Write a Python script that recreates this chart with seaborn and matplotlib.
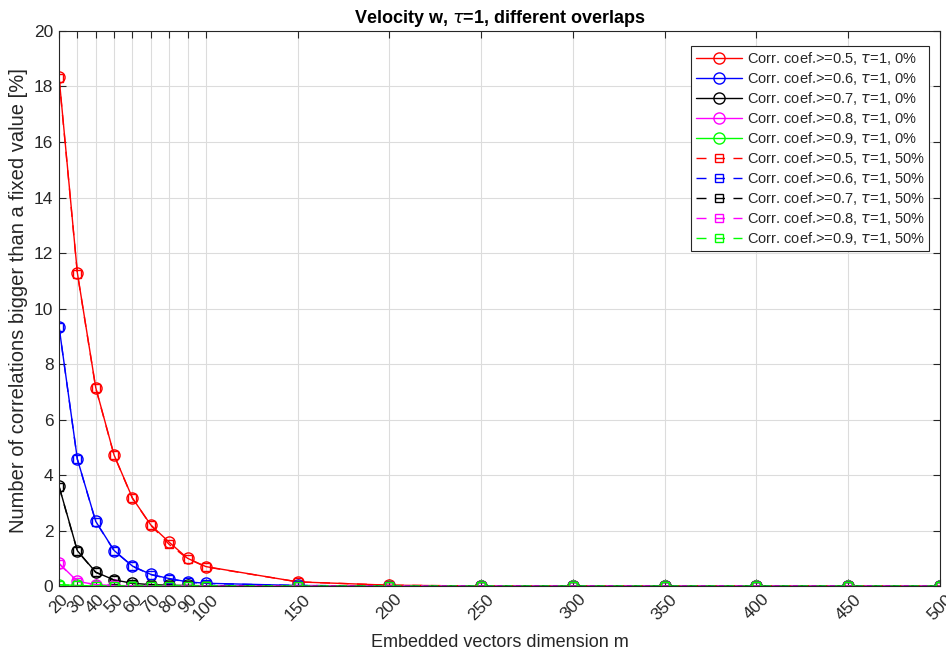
import matplotlib
matplotlib.use("Agg")
import matplotlib.pyplot as plt
import seaborn as sns
import pandas as pd

# Embedded vector dimensions
m_values = [20, 30, 40, 50, 60, 70, 80, 90, 100, 150, 200, 250, 300, 350, 400, 450, 500]

# Percentage of correlations above each threshold, no overlap (0%)
r05_ov0 = [18.35, 11.28, 7.15, 4.72, 3.17, 2.20, 1.58, 1.00, 0.70, 0.15, 0.03, 0.0, 0.0, 0.0, 0.0, 0.0, 0.0]
r06_ov0 = [9.35, 4.57, 2.33, 1.28, 0.72, 0.42, 0.27, 0.15, 0.10, 0.02, 0.0, 0.0, 0.0, 0.0, 0.0, 0.0, 0.0]
r07_ov0 = [3.60, 1.27, 0.50, 0.22, 0.10, 0.05, 0.03, 0.02, 0.01, 0.0, 0.0, 0.0, 0.0, 0.0, 0.0, 0.0, 0.0]
r08_ov0 = [0.82, 0.17, 0.05, 0.02, 0.01, 0.0, 0.0, 0.0, 0.0, 0.0, 0.0, 0.0, 0.0, 0.0, 0.0, 0.0, 0.0]
r09_ov0 = [0.05, 0.02, 0.0, 0.0, 0.0, 0.0, 0.0, 0.0, 0.0, 0.0, 0.0, 0.0, 0.0, 0.0, 0.0, 0.0, 0.0]

# Same thresholds, 50% overlap
r05_ov50 = [18.30, 11.26, 7.13, 4.71, 3.16, 2.19, 1.50, 0.99, 0.69, 0.15, 0.03, 0.0, 0.0, 0.0, 0.0, 0.0, 0.0]
r06_ov50 = [9.33, 4.56, 2.32, 1.27, 0.71, 0.41, 0.26, 0.14, 0.09, 0.02, 0.0, 0.0, 0.0, 0.0, 0.0, 0.0, 0.0]
r07_ov50 = [3.58, 1.26, 0.49, 0.21, 0.09, 0.05, 0.03, 0.02, 0.01, 0.0, 0.0, 0.0, 0.0, 0.0, 0.0, 0.0, 0.0]
r08_ov50 = [0.80, 0.16, 0.05, 0.02, 0.01, 0.0, 0.0, 0.0, 0.0, 0.0, 0.0, 0.0, 0.0, 0.0, 0.0, 0.0, 0.0]
r09_ov50 = [0.04, 0.02, 0.0, 0.0, 0.0, 0.0, 0.0, 0.0, 0.0, 0.0, 0.0, 0.0, 0.0, 0.0, 0.0, 0.0, 0.0]

thresholds = ["0.5", "0.6", "0.7", "0.8", "0.9"]
colors = ["#ff0000", "#0000ff", "#000000", "#ff00ff", "#00ff00"]
overlaps = ["0%", "50%"]
series = {
    "0%": [r05_ov0, r06_ov0, r07_ov0, r08_ov0, r09_ov0],
    "50%": [r05_ov50, r06_ov50, r07_ov50, r08_ov50, r09_ov50],
}

sns.set_theme(style="whitegrid")
plt.rcParams["font.family"] = ["Liberation Sans", "DejaVu Sans"]
plt.rcParams["mathtext.fontset"] = "dejavusans"
text_color = "#262626"

fig = plt.figure(figsize=(9.46, 6.51), dpi=100)
ax = fig.add_axes([0.0624, 0.0998, 0.9313, 0.8526])
ax.set_facecolor("white")

for ov in overlaps:
    marker = "o" if ov == "0%" else "s"
    ls = "-" if ov == "0%" else (0, (7.2, 6.1))
    ms = 8 if ov == "0%" else 6
    for thr, col, vals in zip(thresholds, colors, series[ov]):
        df = pd.DataFrame({"m": m_values, "pct": vals})
        sns.lineplot(
            data=df, x="m", y="pct", ax=ax, color=col, linestyle=ls,
            linewidth=1.0, marker=marker, markersize=ms,
            markerfacecolor="none", markeredgecolor=col, markeredgewidth=1.0,
            label=f"Corr. coef.>={thr}, $\\tau$=1, {ov}",
        )

ax.set_xlim(20, 500)
ax.set_ylim(0, 20)
ax.set_xticks(m_values)
ax.set_xticklabels([str(v) for v in m_values], rotation=45, ha="center")
ax.set_yticks(range(0, 21, 2))

ax.grid(True, color="#dcdcdc", linewidth=0.8)
for sp in ax.spines.values():
    sp.set_visible(True)
    sp.set_color(text_color)
    sp.set_linewidth(0.8)
ax.tick_params(axis="both", direction="in", length=5, width=0.8, colors=text_color,
               labelsize=12.5, top=True, right=True, bottom=True, left=True,
               labelcolor=text_color, pad=4)

ax.set_xlabel("Embedded vectors dimension m", fontsize=13, color=text_color, labelpad=8)
ax.set_ylabel("Number of correlations bigger than a fixed value [%]", fontsize=14.5,
              color=text_color)
ax.yaxis.set_label_coords(-0.035, 0.515)
ax.set_title("Velocity w, $\\tau$=1, different overlaps", fontsize=13, fontweight="bold",
             color="#000000", pad=6)

leg = ax.legend(loc="upper right", fontsize=10.5, frameon=True, fancybox=False,
                edgecolor=text_color, framealpha=1, handlelength=3.2,
                borderpad=0.3, labelspacing=0.2, handletextpad=0.3,
                bbox_to_anchor=(0.996, 0.986))
leg.get_frame().set_linewidth(0.8)
for t in leg.get_texts():
    t.set_color(text_color)

fig.savefig("out.png", dpi=100, facecolor="white")
